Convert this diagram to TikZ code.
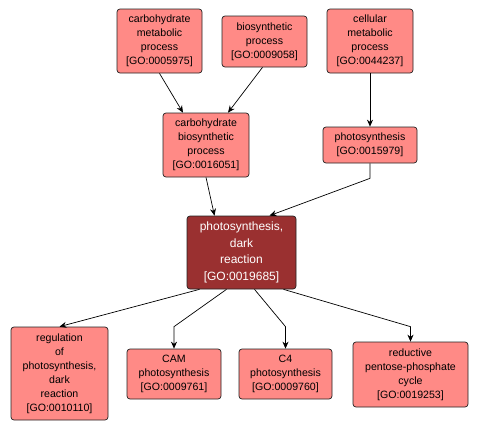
\documentclass[tikz,border=0pt]{standalone}
\usepackage{fontspec}
\setmainfont{Liberation Sans}
\usetikzlibrary{arrows.meta}
\definecolor{lightfill}{HTML}{FF8A86}
\definecolor{darkfill}{HTML}{9A3030}
\definecolor{edgecol}{HTML}{222222}
\begin{document}
\begin{tikzpicture}[x=1pt,y=-1pt,
  term/.style={draw=edgecol, line width=0.7pt, fill=lightfill, rounded corners=3pt,
    align=center, inner sep=0pt, font=\fontsize{10.6}{14}\selectfont, text=black},
  mainterm/.style={term, fill=darkfill, text=white, font=\fontsize{12}{16.5}\selectfont},
  link/.style={draw=black, line width=0.7pt, -{Stealth[length=7pt,width=6pt]}}]
\useasboundingbox (0,0) rectangle (480,431);
\node[term, minimum width=85pt, minimum height=64pt] (cmp) at (159.5,41) {carbohydrate\\metabolic\\process\\{[GO:0005975]}};
\node[term, minimum width=85pt, minimum height=51pt] (bp) at (264.5,41.5) {biosynthetic\\process\\{[GO:0009058]}};
\node[term, minimum width=86pt, minimum height=64pt] (cemp) at (370,41) {cellular\\metabolic\\process\\{[GO:0044237]}};
\node[term, minimum width=86pt, minimum height=64pt] (cbp) at (206,145) {carbohydrate\\biosynthetic\\process\\{[GO:0016051]}};
\node[term, minimum width=94pt, minimum height=36pt] (ps) at (370,145) {photosynthesis\\{[GO:0015979]}};
\node[mainterm, minimum width=109pt, minimum height=73pt] (dr) at (241.5,252.5) {photosynthesis,\\dark\\reaction\\{[GO:0019685]}};
\node[term, minimum width=97pt, minimum height=93pt] (reg) at (59.5,373.5) {regulation\\of\\photosynthesis,\\dark\\reaction\\{[GO:0010110]}};
\node[term, minimum width=94pt, minimum height=50pt] (cam) at (174,374) {CAM\\photosynthesis\\{[GO:0009761]}};
\node[term, minimum width=93pt, minimum height=50pt] (c4) at (285.5,374) {C4\\photosynthesis\\{[GO:0009760]}};
\node[term, minimum width=115pt, minimum height=65pt] (rpp) at (410.5,374.5) {reductive\\pentose-phosphate\\cycle\\{[GO:0019253]}};
\path[link] (cmp.south) -- ([xshift=-23pt]cbp.north);
\path[link] ([xshift=-2pt]bp.south) -- ([xshift=22pt]cbp.north);
\path[link] (cemp.south) -- (ps.north);
\path[link] (cbp.south) -- ([xshift=-27pt]dr.north);
\path[link] (ps.south) -- ([yshift=-15pt]ps.south) -- ([xshift=28pt]dr.north);
\path[link] ([xshift=-42pt]dr.south) -- (reg.north);
\path[link] ([xshift=-15pt]dr.south) -- ([yshift=22pt]cam.north) -- (cam.north);
\path[link] ([xshift=13pt]dr.south) -- ([yshift=22pt]c4.north) -- (c4.north);
\path[link] ([xshift=42pt]dr.south) -- ([yshift=15pt]rpp.north) -- (rpp.north);
\end{tikzpicture}
\end{document}
